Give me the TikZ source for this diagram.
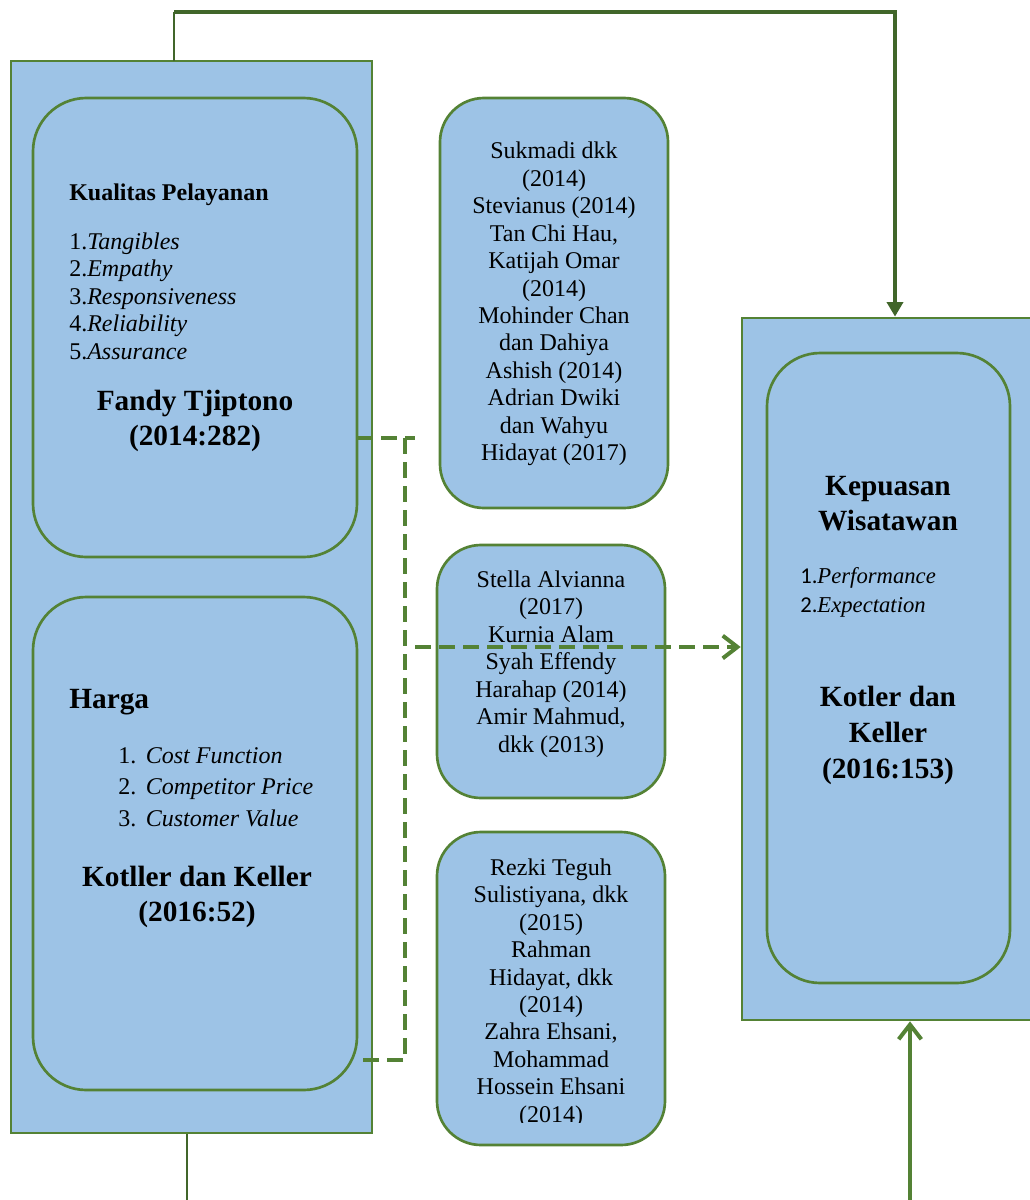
\documentclass[tikz,border=0pt]{standalone}
\usepackage{fontspec}
\setmainfont{Liberation Serif}
\newfontfamily\numfont{Carlito}
\usetikzlibrary{fit}
\usetikzlibrary{arrows.meta}

\definecolor{boxblue}{HTML}{9DC3E6}
\definecolor{boxgreen}{HTML}{548235}
\definecolor{darkgreen}{HTML}{41662A}

\tikzset{
  outerbox/.style={draw=boxgreen, fill=boxblue, line width=2pt, inner sep=0pt},
  innerbox/.style={outerbox, rounded corners=40pt},
  refbox/.style={outerbox, rounded corners=33pt},
  reftext/.style={align=center, inner sep=0pt, font=\fontsize{18}{20.6}\selectfont},
  listtext/.style={align=left, inner sep=0pt, anchor=west, font=\fontsize{18}{20.6}\selectfont},
  bigtext/.style={align=center, inner sep=0pt, font=\fontsize{22}{26.3}\selectfont\bfseries},
  dashline/.style={draw=boxgreen, line width=3pt, dash pattern=on 12pt off 6pt},
  arrline/.style={draw=boxgreen, line width=3pt, -{Straight Barb[length=11pt,width=17pt]}},
}

\begin{document}
\begin{tikzpicture}[x=0.75pt, y=-0.75pt]
    \useasboundingbox (0,0) rectangle (1030,1200);
    \clip (0,0) rectangle (1030,1200);

    % 左边的框
    \node[outerbox, fit={(11,61) (372,1133)}] (left) {};
    \node[innerbox, fit={(33,98) (357,557)}] (kualitas) {};
    \node[innerbox, fit={(33,597) (357,1090)}] (harga) {};

    % 中间的框
    \node[refbox, fit={(440,98) (668,508)}] (refA) {};
    \node[refbox, fit={(437,545) (665,798)}] (refB) {};
    \node[refbox, fit={(437,832) (665,1145)}] (refC) {};

    % 右边的框
    \node[outerbox, fit={(742,318) (1048,1020)}] (right) {};
    \node[innerbox, fit={(767,353) (1010,983)}] (kepuasan) {};

    % 文字
    \node[anchor=west, inner sep=0pt, font=\fontsize{18}{20.6}\selectfont\bfseries] (kpTitle) at (69,195) {Kualitas Pelayanan};
    \node[listtext] (kpList) at (69,296) {1.\textit{Tangibles}\\2.\textit{Empathy}\\3.\textit{Responsiveness}\\4.\textit{Reliability}\\5.\textit{Assurance}};
    \node[bigtext] (kpSrc) at (195,421) {Fandy Tjiptono\\(2014:282)};

    \node[anchor=west, inner sep=0pt, font=\fontsize{22}{26.3}\selectfont\bfseries] (hgTitle) at (69,702) {Harga};
    \node[listtext, font=\fontsize{18}{23.5}\selectfont] (hgList) at (118,787) {1.\hspace{0.4em}\textit{Cost Function}\\2.\hspace{0.4em}\textit{Competitor Price}\\3.\hspace{0.4em}\textit{Customer Value}};
    \node[bigtext] (hgSrc) at (197,897) {Kotller dan Keller\\(2016:52)};

    \node[reftext] (refAText) at (554,304) {Sukmadi dkk\\(2014)\\Stevianus (2014)\\Tan Chi Hau,\\Katijah Omar\\(2014)\\Mohinder Chan\\dan Dahiya\\Ashish (2014)\\Adrian Dwiki\\dan Wahyu\\Hidayat (2017)};
    \node[reftext] (refBText) at (551,664) {Stella Alvianna\\(2017)\\Kurnia Alam\\Syah Effendy\\Harahap (2014)\\Amir Mahmud,\\dkk (2013)};
    \begin{scope}
      \clip (437,832) rectangle (665,1122);
      \node[reftext] (refCText) at (551,993) {Rezki Teguh\\Sulistiyana, dkk\\(2015)\\Rahman\\Hidayat, dkk\\(2014)\\Zahra Ehsani,\\Mohammad\\Hossein Ehsani\\(2014)};
    \end{scope}

    \node[bigtext] (kwTitle) at (888,504) {Kepuasan\\Wisatawan};
    \node[listtext, font=\fontsize{17}{21.8}\selectfont] (kwList) at (800,592) {{\numfont 1.}\textit{Performance}\\{\numfont 2.}\textit{Expectation}};
    \node[bigtext, font=\fontsize{22}{27}\selectfont\bfseries] (kwSrc) at (888,735) {Kotler dan\\Keller\\(2016:153)};

    % 连线
    \coordinate (upStart) at (174,61);
    \coordinate (upTop) at (174,12);
    \draw[darkgreen, line width=2pt] (upStart) -- (upTop);
    \draw[darkgreen, line width=3pt, -{Triangle[length=11pt,width=12pt]}] (upTop) -| (right.north);

    \coordinate (kpOut) at (357,438);
    \coordinate (hgOut) at (357,1060);
    \coordinate (join) at (405,647);
    \draw[dashline] (kpOut) -- ++(58,0);
    \draw[dashline] (kpOut -| join) -- (hgOut -| join) -- (hgOut);
    \draw[dashline, -{Straight Barb[length=11pt,width=17pt]}] (415,647) -- (right.west |- join);

    \coordinate (bottomIn) at (910,1200);
    \draw[arrline] (bottomIn) -- (bottomIn |- right.south);

    \coordinate (bottomOut) at (187,1200);
    \draw[darkgreen, line width=0.8pt] (left.south -| bottomOut) -- (bottomOut);
\end{tikzpicture}
\end{document}
